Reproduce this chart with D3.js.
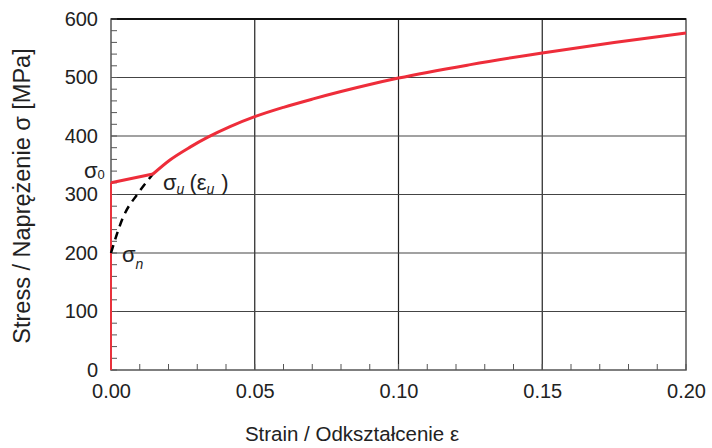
<!DOCTYPE html>
<html>
<head>
<meta charset="utf-8"/>
<script src="https://d3js.org/d3.v7.min.js"></script>
<style>
  body { margin: 0; background: white; }
  text { font-family: "Liberation Sans", Arial, sans-serif; fill: #222; }
</style>
</head>
<body>
<div id="chart"></div>
<script>
// data
var xTicks = [0, 0.05, 0.10, 0.15, 0.20];
var yTicks = [0, 100, 200, 300, 400, 500, 600];
var elasticLine = [[0, 0], [0, 320]];
var flowCurve = [[0, 320], [0.0146, 335], [0.0205, 359], [0.0275, 381], [0.0337, 398],
                 [0.0414, 416], [0.05, 433], [0.06, 449], [0.07, 463], [0.08, 476],
                 [0.09, 488], [0.10, 499], [0.125, 522], [0.15, 542], [0.175, 560],
                 [0.20, 576]];
var dashedCurve = [[0, 200], [0.0042, 261], [0.0094, 302], [0.0146, 335]];

var W = 712, H = 448;
var margin = {left: 111, right: 26, top: 19, bottom: 78};
var w = W - margin.left - margin.right, h = H - margin.top - margin.bottom;

var svg = d3.select("#chart").append("svg").attr("width", W).attr("height", H);
var g = svg.append("g").attr("transform", "translate(" + margin.left + "," + margin.top + ")");

var x = d3.scaleLinear().domain([0, 0.20]).range([0, w]);
var y = d3.scaleLinear().domain([0, 600]).range([h, 0]);

// grid
g.selectAll(".vgrid").data(xTicks.slice(1, -1)).enter().append("line")
  .attr("x1", function(d) { return x(d); }).attr("x2", function(d) { return x(d); })
  .attr("y1", 0).attr("y2", h).attr("stroke", "#222").attr("stroke-width", 1.2);
g.selectAll(".hgrid").data(yTicks.slice(1, -1)).enter().append("line")
  .attr("y1", function(d) { return y(d); }).attr("y2", function(d) { return y(d); })
  .attr("x1", 0).attr("x2", w).attr("stroke", "#444").attr("stroke-width", 1.2);

// frame
g.append("rect").attr("width", w).attr("height", h)
  .attr("fill", "none").attr("stroke", "#555").attr("stroke-width", 1.5);
g.append("line").attr("x1", 0).attr("x2", w).attr("y1", 0).attr("y2", 0)
  .attr("stroke", "#111").attr("stroke-width", 2);

// minor ticks pointing inwards
g.selectAll(".xminor").data(d3.range(0, 21).map(function(i) { return i / 100; })).enter().append("line")
  .attr("x1", function(d) { return x(d); }).attr("x2", function(d) { return x(d); })
  .attr("y1", h).attr("y2", h - 6).attr("stroke", "#555");
g.selectAll(".yminor").data(d3.range(0, 31).map(function(i) { return i * 20; })).enter().append("line")
  .attr("y1", function(d) { return y(d); }).attr("y2", function(d) { return y(d); })
  .attr("x1", 0).attr("x2", 6).attr("stroke", "#555");

// axis labels via d3 axes
var xAxis = g.append("g").attr("transform", "translate(0," + h + ")")
  .call(d3.axisBottom(x).tickValues(xTicks).tickFormat(d3.format(".2f")).tickSize(0).tickPadding(14));
var yAxis = g.append("g")
  .call(d3.axisLeft(y).tickValues(yTicks).tickSize(0).tickPadding(13));
[xAxis, yAxis].forEach(function(a) {
  a.select(".domain").remove();
  a.selectAll("text").style("font-size", "20px").attr("fill", "#222")
    .style("font-family", "Liberation Sans, Arial, sans-serif");
});

// curves
var line = d3.line().x(function(d) { return x(d[0]); }).y(function(d) { return y(d[1]); });
var smooth = d3.line().curve(d3.curveMonotoneX).x(function(d) { return x(d[0]); }).y(function(d) { return y(d[1]); });

g.append("path").attr("d", line(elasticLine)).attr("fill", "none")
  .attr("stroke", "#e8323c").attr("stroke-width", 2);
g.append("path").attr("d", smooth(dashedCurve)).attr("fill", "none")
  .attr("stroke", "#000").attr("stroke-width", 2.5).attr("stroke-dasharray", "8,6");
g.append("path").attr("d", line(flowCurve.slice(0, 2))).attr("fill", "none")
  .attr("stroke", "#ee2d3a").attr("stroke-width", 3);
g.append("path").attr("d", smooth(flowCurve.slice(1))).attr("fill", "none")
  .attr("stroke", "#ee2d3a").attr("stroke-width", 3);

// annotations
var s0 = svg.append("text").attr("x", 84).attr("y", 178).style("font-size", "22px");
s0.append("tspan").text("σ");
s0.append("tspan").attr("dy", 1).style("font-size", "13px").text("0");

var su = svg.append("text").attr("x", 163).attr("y", 190).style("font-size", "22px");
su.append("tspan").text("σ");
su.append("tspan").attr("dy", 4).style("font-size", "14px").style("font-style", "italic").text("u");
su.append("tspan").attr("dy", -4).attr("dx", 5).text("(ε");
su.append("tspan").attr("dy", 4).style("font-size", "14px").style("font-style", "italic").text("u");
su.append("tspan").attr("dy", -4).attr("dx", 7).text(")");

var sn = svg.append("text").attr("x", 122).attr("y", 262).style("font-size", "22px");
sn.append("tspan").text("σ");
sn.append("tspan").attr("dy", 7).style("font-size", "14px").style("font-style", "italic").text("n");

// axis titles
svg.append("text").attr("x", 352).attr("y", 441)
  .attr("text-anchor", "middle").style("font-size", "20.5px")
  .text("Strain / Odkształcenie ε");
svg.append("text").attr("transform", "translate(30,196) rotate(-90)")
  .attr("text-anchor", "middle").style("font-size", "23.5px")
  .text("Stress / Naprężenie σ [MPa]");
</script>
</body>
</html>
